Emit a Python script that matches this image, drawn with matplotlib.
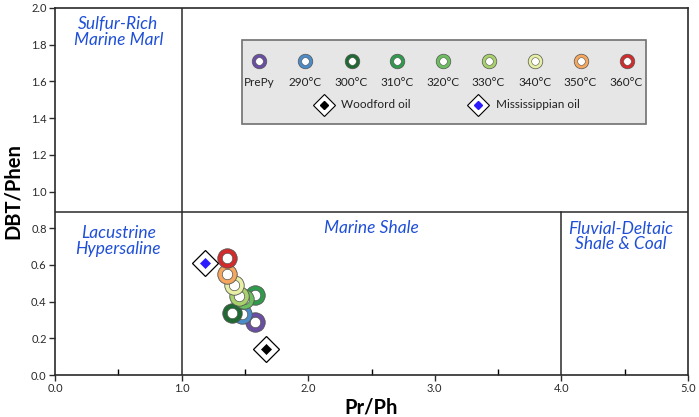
import matplotlib
matplotlib.use("Agg")
import matplotlib.pyplot as plt
from matplotlib.patches import Rectangle

plt.rcParams['font.family'] = ['Lato', 'DejaVu Sans']

# ---- data ----
labels = ["PrePy", "290°C", "300°C", "310°C", "320°C", "330°C", "340°C", "350°C", "360°C"]
colors = ["#6a4ea3", "#4a8bc8", "#1e6a32", "#2f9a4c", "#6cbf5f", "#a9d16b", "#e6efa3", "#f5a65f", "#d32a2b"]
pr_ph = [1.58, 1.48, 1.40, 1.58, 1.49, 1.45, 1.41, 1.36, 1.36]
dbt_phen = [0.29, 0.33, 0.34, 0.435, 0.415, 0.43, 0.49, 0.55, 0.635]

oil_labels = ["Woodford oil", "Mississippian oil"]
oil_colors = ["black", "#2b1bff"]
oil_pr_ph = [1.665, 1.185]
oil_dbt_phen = [0.14, 0.61]

region_labels = ["Sulfur-Rich\nMarine Marl", "Lacustrine\nHypersaline", "Marine Shale", "Fluvial-Deltaic\nShale & Coal"]
region_x = [0.5, 0.5, 2.5, 4.47]
region_y = [1.87, 0.73, 0.80, 0.755]

x_split = [1.0, 4.0]
y_split = 0.89

fig = plt.figure(figsize=(6.99, 4.17), dpi=100)
ax = fig.add_axes([55/699, 42/417, 633/699, 367/417])
ax.set_xlim(0, 5)
ax.set_ylim(0, 2.0)

for s in ax.spines.values():
    s.set_linewidth(1.2)
    s.set_color("#2a2a2a")

# division lines
lc = "#2a2a2a"
ax.plot([0, 5], [y_split, y_split], color=lc, lw=1.1, zorder=1)
ax.plot([x_split[0], x_split[0]], [0, 2], color=lc, lw=1.1, zorder=1)
ax.plot([x_split[1], x_split[1]], [0, y_split], color=lc, lw=1.1, zorder=1)

# region labels
for t, x, y in zip(region_labels, region_x, region_y):
    ax.text(x, y, t, color="#1f4fd8", style="italic", fontsize=12.5, ha="center", va="center",
            linespacing=0.95)

# ring markers
for x, y, c in zip(pr_ph, dbt_phen, colors):
    ax.plot(x, y, 'o', ms=14, mfc=c, mec="#555555", mew=0.6, zorder=3)
    ax.plot(x, y, 'o', ms=7.5, mfc="white", mec="#555555", mew=0.5, zorder=3)

# oil diamonds
for x, y, c in zip(oil_pr_ph, oil_dbt_phen, oil_colors):
    ax.plot(x, y, 'D', ms=13, mfc="white", mec="black", mew=0.9, zorder=4)
    ax.plot(x, y, 'D', ms=5, mfc=c, mec=c, mew=0.5, zorder=5)

# ticks
ax.set_xticks([0, 1, 2, 3, 4, 5])
ax.set_xticklabels(["0.0", "1.0", "2.0", "3.0", "4.0", "5.0"])
ax.set_xticks([0.5, 1.5, 2.5, 3.5, 4.5], minor=True)
ax.set_yticks([0.2 * i for i in range(11)])
ax.set_yticklabels([f"{0.2 * i:.1f}" for i in range(11)])
ax.tick_params(axis='both', which='major', length=4, width=1, labelsize=8, colors="#2a2a2a", pad=2)
ax.tick_params(axis='x', which='minor', direction='in', length=4, width=1)

ax.set_xlabel("Pr/Ph", fontsize=14.5, fontweight="bold", labelpad=2)
ax.set_ylabel("DBT/Phen", fontsize=14.5, fontweight="bold", labelpad=6)

# legend box (axes coordinates)
def px2ax(px, py):
    return ((px - 55) / 633, (375 - py) / 367)

x0, y0 = px2ax(242, 124)
x1, y1 = px2ax(646, 40)
ax.add_patch(Rectangle((x0, y0), x1 - x0, y1 - y0, transform=ax.transAxes,
                       facecolor="#e6e6e6", edgecolor="#707070", lw=1.2, zorder=6))
leg_px = [259, 305, 351.5, 397, 443, 488.5, 535, 580.5, 626.5]
for px, c, lab in zip(leg_px, colors, labels):
    ax_x, ax_y = px2ax(px, 61)
    ax.plot(ax_x, ax_y, 'o', ms=10.5, mfc=c, mec="#555555", mew=0.5, transform=ax.transAxes, zorder=7)
    ax.plot(ax_x, ax_y, 'o', ms=5.5, mfc="white", mec="#555555", mew=0.4, transform=ax.transAxes, zorder=7)
    lx, ly = px2ax(px, 82)
    ax.text(lx, ly, lab, fontsize=8.5, ha="center", va="center", transform=ax.transAxes,
            color="#222222", zorder=7)
for px, tx, c, lab in zip([323.5, 478], [341, 496], oil_colors, oil_labels):
    ax_x, ax_y = px2ax(px, 105)
    ax.plot(ax_x, ax_y, 'D', ms=11, mfc="white", mec="black", mew=0.8, transform=ax.transAxes, zorder=7)
    ax.plot(ax_x, ax_y, 'D', ms=4.5, mfc=c, mec=c, transform=ax.transAxes, zorder=8)
    lx, ly = px2ax(tx, 105)
    ax.text(lx, ly, lab, fontsize=8.5, ha="left", va="center", transform=ax.transAxes,
            color="#222222", zorder=7)

fig.savefig("out.png", dpi=100)
